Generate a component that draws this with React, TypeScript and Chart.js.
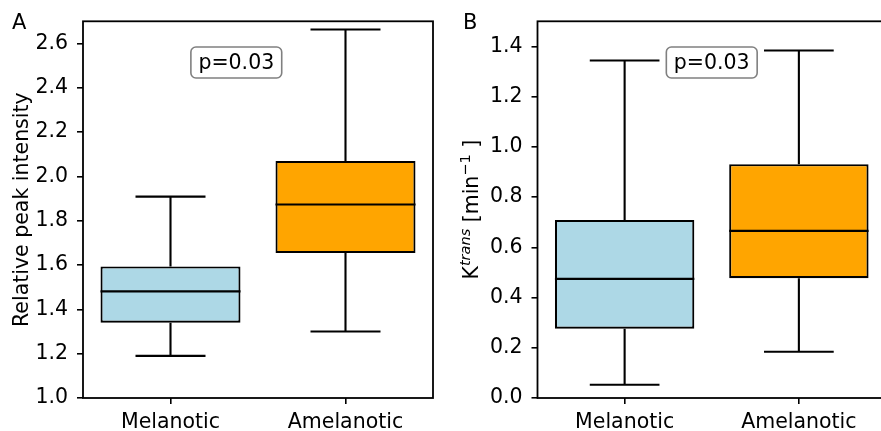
import React, { useEffect, useRef } from 'react';
import { Chart, registerables } from 'chart.js';
Chart.register(...registerables);

const categories = ['Melanotic', 'Amelanotic'];
const boxColors = ['#ADD8E6', '#FFA500'];

// Panel A: relative peak intensity
const peakMin = [1.19, 1.3];
const peakQ1 = [1.34, 1.654];
const peakMedian = [1.481, 1.873];
const peakQ3 = [1.594, 2.07];
const peakMax = [1.909, 2.663];
const peakTicks = [1.0, 1.2, 1.4, 1.6, 1.8, 2.0, 2.2, 2.4, 2.6];

// Panel B: Ktrans
const ktMin = [0.053, 0.184];
const ktQ1 = [0.276, 0.477];
const ktMedian = [0.4745, 0.6655];
const ktQ3 = [0.709, 0.931];
const ktMax = [1.344, 1.384];
const ktTicks = [0.0, 0.2, 0.4, 0.6, 0.8, 1.0, 1.2, 1.4];

const pText = 'p=0.03';
const FONT = 'DejaVu Sans';
const FS = 20.5;
const LW = 2.1;

type PanelProps = {
  left: number;
  width: number;
  padRight: number;
  yAxisWidth: number;
  yMin: number;
  yMax: number;
  ticks: number[];
  mins: number[];
  q1: number[];
  med: number[];
  q3: number[];
  maxs: number[];
  letter: string;
  letterX: number;
  pFracX: number;
  yTitle: string | null;
  kLabelX?: number;
};

function Panel(p: PanelProps) {
  const ref = useRef<HTMLCanvasElement | null>(null);
  useEffect(() => {
    const canvas = ref.current;
    if (!canvas) return;

    const boxPlugin = {
      id: 'boxExtras',
      afterDatasetsDraw(chart: any) {
        const ctx = chart.ctx;
        const xs = chart.scales.x;
        const ys = chart.scales.y;
        const catW = xs.width / categories.length;
        ctx.save();
        ctx.strokeStyle = '#000';
        ctx.lineWidth = LW;
        ctx.lineCap = 'butt';
        categories.forEach((_, i) => {
          const cx = xs.getPixelForValue(i);
          const bw = catW * 0.4;
          const cw = catW * 0.2;
          const yMin = ys.getPixelForValue(p.mins[i]);
          const yQ1 = ys.getPixelForValue(p.q1[i]);
          const yMed = ys.getPixelForValue(p.med[i]);
          const yQ3 = ys.getPixelForValue(p.q3[i]);
          const yMax = ys.getPixelForValue(p.maxs[i]);
          ctx.beginPath();
          ctx.moveTo(cx, yQ3);
          ctx.lineTo(cx, yMax);
          ctx.moveTo(cx - cw, yMax);
          ctx.lineTo(cx + cw, yMax);
          ctx.moveTo(cx, yQ1);
          ctx.lineTo(cx, yMin);
          ctx.moveTo(cx - cw, yMin);
          ctx.lineTo(cx + cw, yMin);
          ctx.moveTo(cx - bw, yMed);
          ctx.lineTo(cx + bw, yMed);
          ctx.stroke();
        });
        // frame
        const a = chart.chartArea;
        ctx.lineWidth = 1.8;
        ctx.strokeRect(a.left, a.top, a.right - a.left, a.bottom - a.top);

        // p-value box
        const pcx = a.left + p.pFracX * (a.right - a.left);
        const pcy = 62.5;
        ctx.font = `${FS}px "${FONT}"`;
        const tw = ctx.measureText(pText).width;
        const bwid = tw + 15;
        const bh = 31;
        const bx = pcx - bwid / 2;
        const by = pcy - bh / 2;
        ctx.beginPath();
        ctx.roundRect(bx, by, bwid, bh, 5);
        ctx.fillStyle = '#fff';
        ctx.fill();
        ctx.strokeStyle = '#808080';
        ctx.lineWidth = 1.6;
        ctx.stroke();
        ctx.fillStyle = '#000';
        ctx.textAlign = 'center';
        ctx.textBaseline = 'middle';
        ctx.fillText(pText, pcx, pcy + 1);

        // panel letter
        ctx.textAlign = 'left';
        ctx.textBaseline = 'alphabetic';
        ctx.font = `21px "${FONT}"`;
        ctx.fillText(p.letter, p.letterX, 28.5);

        // Ktrans label
        if (p.kLabelX !== undefined) {
          const cy = (a.top + a.bottom) / 2;
          ctx.save();
          ctx.translate(p.kLabelX, cy);
          ctx.rotate(-Math.PI / 2);
          const parts: { t: string; size: number; rise: number; italic: boolean }[] = [
            { t: 'K', size: FS, rise: 0, italic: false },
            { t: 'trans', size: 14.5, rise: 8, italic: true },
            { t: ' [min', size: FS, rise: 0, italic: false },
            { t: '\u22121', size: 14.5, rise: 8, italic: false },
            { t: ' ]', size: FS, rise: 0, italic: false },
          ];
          let total = 0;
          const widths = parts.map((pt) => {
            ctx.font = `${pt.italic ? 'italic ' : ''}${pt.size}px "${FONT}"`;
            const w = ctx.measureText(pt.t).width;
            total += w;
            return w;
          });
          let x = -total / 2;
          ctx.textAlign = 'left';
          ctx.textBaseline = 'alphabetic';
          ctx.fillStyle = '#000';
          parts.forEach((pt, i) => {
            ctx.font = `${pt.italic ? 'italic ' : ''}${pt.size}px "${FONT}"`;
            ctx.fillText(pt.t, x, -pt.rise);
            x += widths[i];
          });
          ctx.restore();
        }
        ctx.restore();
      },
    };

    const chart = new Chart(canvas, {
      type: 'bar',
      data: {
        labels: categories,
        datasets: [
          {
            data: categories.map((_, i) => [p.q1[i], p.q3[i]]) as any,
            backgroundColor: boxColors,
            borderColor: '#000',
            borderWidth: LW,
            borderSkipped: false,
            barPercentage: 0.8,
            categoryPercentage: 1.0,
          },
        ],
      },
      options: {
        responsive: false,
        animation: false,
        devicePixelRatio: 1,
        layout: { padding: { left: 0, top: 21, right: p.padRight, bottom: 0 } },
        plugins: { legend: { display: false }, tooltip: { enabled: false } },
        scales: {
          x: {
            offset: true,
            grid: {
              display: true,
              offset: false,
              drawOnChartArea: false,
              drawTicks: true,
              tickLength: 6,
              color: '#000',
              lineWidth: 1.6,
            },
            border: { display: false },
            ticks: { font: { family: FONT, size: FS }, color: '#000', padding: 6, maxRotation: 0 },
            afterFit: (s: any) => {
              s.height = 33;
            },
          },
          y: {
            min: p.yMin,
            max: p.yMax,
            grid: {
              display: true,
              drawOnChartArea: false,
              drawTicks: true,
              tickLength: 6,
              color: '#000',
              lineWidth: 1.6,
            },
            border: { display: false },
            afterBuildTicks: (s: any) => {
              s.ticks = p.ticks.map((v) => ({ value: v }));
            },
            ticks: {
              font: { family: FONT, size: FS },
              color: '#000',
              padding: 9,
              callback: (v: any) => Number(v).toFixed(1),
            },
            title: p.yTitle
              ? {
                  display: true,
                  text: p.yTitle,
                  font: { family: FONT, size: FS },
                  color: '#000',
                  padding: { top: 10, bottom: 0 },
                }
              : { display: false },
            afterFit: (s: any) => {
              s.width = p.yAxisWidth;
            },
          },
        },
      },
      plugins: [boxPlugin],
    });
    return () => chart.destroy();
  }, []);
  return (
    <canvas
      ref={ref}
      width={p.width}
      height={431}
      style={{ position: 'absolute', left: p.left, top: 0, width: p.width, height: 431 }}
    />
  );
}

export default function App() {
  return (
    <div
      style={{
        position: 'fixed',
        left: 0,
        top: 0,
        width: 881,
        height: 431,
        overflow: 'hidden',
        background: '#fff',
      }}
    >
      <Panel
        left={0}
        width={440}
        padRight={7}
        yAxisWidth={83}
        yMin={1.0}
        yMax={2.7}
        ticks={peakTicks}
        mins={peakMin}
        q1={peakQ1}
        med={peakMedian}
        q3={peakQ3}
        maxs={peakMax}
        letter="A"
        letterX={12}
        pFracX={0.438}
        yTitle="Relative peak intensity"
      />
      <Panel
        left={440}
        width={450}
        padRight={4}
        yAxisWidth={97.5}
        yMin={0}
        yMax={1.5}
        ticks={ktTicks}
        mins={ktMin}
        q1={ktQ1}
        med={ktMedian}
        q3={ktQ3}
        maxs={ktMax}
        letter="B"
        letterX={23}
        pFracX={0.5}
        yTitle={null}
        kLabelX={37.6}
      />
    </div>
  );
}
